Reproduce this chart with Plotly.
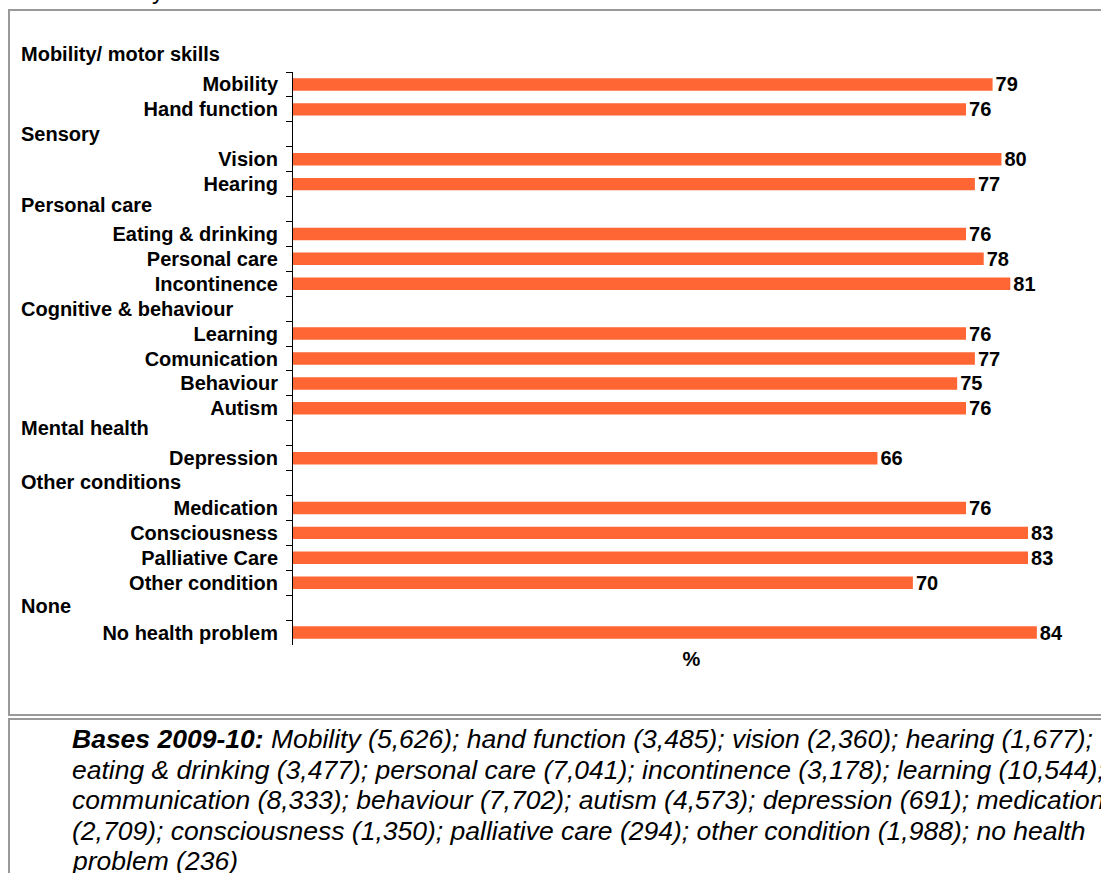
import plotly.graph_objects as go

# Share of respondents (%) by type of health condition, grouped by category
groups = ["Mobility/ motor skills", "Sensory", "Personal care",
          "Cognitive & behaviour", "Mental health", "Other conditions", "None"]
group_items = [
    ["Mobility", "Hand function"],
    ["Vision", "Hearing"],
    ["Eating & drinking", "Personal care", "Incontinence"],
    ["Learning", "Comunication", "Behaviour", "Autism"],
    ["Depression"],
    ["Medication", "Consciousness", "Palliative Care", "Other condition"],
    ["No health problem"],
]
group_values = [
    [79, 76],
    [80, 77],
    [76, 78, 81],
    [76, 77, 75, 76],
    [66],
    [76, 83, 83, 70],
    [84],
]

axis_title = "%"
caption_lines = [
    "<b>Bases 2009-10:</b> Mobility (5,626); hand function (3,485); vision (2,360); hearing (1,677);",
    "eating & drinking (3,477); personal care (7,041); incontinence (3,178); learning (10,544);",
    "communication (8,333); behaviour (7,702); autism (4,573); depression (691); medication",
    "(2,709); consciousness (1,350); palliative care (294); other condition (1,988); no health",
    "problem (236)",
]
top_title = "disability"

# ---- page geometry (pixels) ----
W, H = 1101, 873
L, R, T, B = 293, 11, 72, 228
plot_w = W - L - R
plot_h = H - T - B


def px_x(px):
    return (px - L) / plot_w


def px_y(py):
    return (H - B - py) / plot_h


# vertical nudge (px) of each group header relative to its empty row
header_shift = [0, 0, 4, 0, 5, 1, 2]

# Build the row list: every group after the first gets an empty header row
rows, vals, texts, header_rows = [], [], [], []
for gi, (g, items, values) in enumerate(zip(groups, group_items, group_values)):
    if gi > 0:
        header_rows.append((g, len(rows), header_shift[gi]))
        rows.append(" " * gi)
        vals.append(None)
        texts.append("")
    for it, v in zip(items, values):
        rows.append(it)
        vals.append(v)
        texts.append(str(v))

FONT = "Arial, Liberation Sans, sans-serif"
BAR_COLOR = "#FF6633"
HEADER_FONT = dict(family=FONT, size=20, color="black", weight="bold")
HEADER_X = px_x(19)

fig = go.Figure(
    go.Bar(
        x=vals,
        y=rows,
        orientation="h",
        marker=dict(color=BAR_COLOR, line=dict(width=0)),
        text=texts,
        textposition="outside",
        constraintext="none",
        textfont=dict(family=FONT, size=20, color="black", weight="bold"),
        cliponaxis=False,
        width=0.5,
        hoverinfo="skip",
    )
)

fig.update_layout(
    width=W,
    height=H,
    margin=dict(l=L, r=R, t=T, b=B, pad=0),
    paper_bgcolor="white",
    plot_bgcolor="white",
    showlegend=False,
    font=dict(family=FONT, color="black"),
    xaxis=dict(
        range=[0, 90],
        showgrid=False,
        zeroline=False,
        showline=False,
        showticklabels=False,
        ticks="",
        title=dict(text=axis_title, standoff=6,
                   font=dict(family=FONT, size=20, color="black", weight="bold")),
    ),
    yaxis=dict(
        type="category",
        categoryorder="array",
        categoryarray=rows,
        range=[len(rows) - 0.5, -0.5],
        autorange=False,
        showgrid=False,
        zeroline=False,
        showline=True,
        linecolor="black",
        linewidth=1,
        ticks="outside",
        tickson="boundaries",
        ticklen=6,
        tickwidth=1,
        tickcolor="black",
        ticklabelstandoff=10,
        tickfont=dict(family=FONT, size=20, color="black", weight="bold"),
    ),
)

# First group header sits above the axis
fig.add_annotation(
    x=HEADER_X, xref="paper", xanchor="left",
    y=px_y(54), yref="paper", yanchor="middle",
    text=groups[0], showarrow=False, font=HEADER_FONT,
)
# Remaining group headers, left aligned in the label column on their empty rows
for name, idx, shift in header_rows:
    fig.add_annotation(
        x=HEADER_X, xref="paper", xanchor="left",
        y=idx, yref="y", yanchor="middle", yshift=shift,
        text=name, showarrow=False, font=HEADER_FONT,
    )

# Chart frame and caption frame
FRAME = "#999999"
fig.add_shape(type="rect", xref="paper", yref="paper",
              x0=px_x(9), x1=px_x(1115), y0=px_y(715), y1=px_y(10),
              line=dict(color=FRAME, width=2), fillcolor="rgba(0,0,0,0)", layer="below")
fig.add_shape(type="rect", xref="paper", yref="paper",
              x0=px_x(9), x1=px_x(1115), y0=px_y(890), y1=px_y(719),
              line=dict(color=FRAME, width=2), fillcolor="rgba(0,0,0,0)", layer="below")

# Caption text, one annotation per line
line_step = 30.5
for i, line in enumerate(caption_lines):
    fig.add_annotation(
        x=px_x(70), xref="paper", xanchor="left",
        y=px_y(739 + i * line_step), yref="paper", yanchor="middle",
        text=line, showarrow=False, align="left",
        font=dict(family=FONT, size=26.5, color="black", style="italic"),
    )

# Title text running off the top of the page
fig.add_annotation(
    x=px_x(70), xref="paper", xanchor="left",
    y=px_y(-10), yref="paper", yanchor="middle",
    text=top_title, showarrow=False,
    font=dict(family=FONT, size=24, color="black"),
)

fig.write_html("out.html")
